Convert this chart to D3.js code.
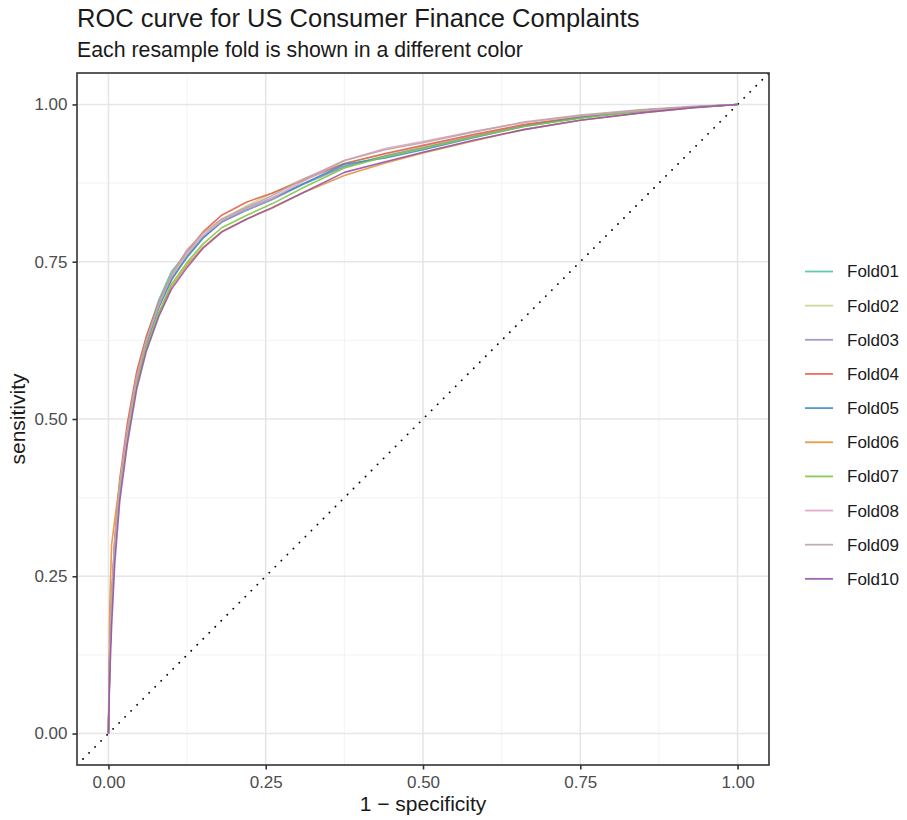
<!DOCTYPE html>
<html>
<head>
<meta charset="utf-8">
<script src="https://cdn.jsdelivr.net/npm/d3@7"></script>
<style>
  html, body { margin: 0; padding: 0; background: #ffffff; }
  svg { display: block; font-family: "Liberation Sans", Arial, Helvetica, sans-serif; }
</style>
</head>
<body>
<svg id="chart" width="907" height="820"></svg>
<script>
// ---------------- data ----------------
const foldNames = ["Fold01","Fold02","Fold03","Fold04","Fold05","Fold06","Fold07","Fold08","Fold09","Fold10"];
const foldColors = ["#52c2a8","#cbd48e","#9691cb","#e5604a","#3f8fc4","#e8913a","#80c744","#e0a3c4","#bba5a6","#9556aa"];

// 1 - specificity (false positive rate) sample points shared by every fold
const fpr = [0, 0.002, 0.005, 0.01, 0.018, 0.03, 0.045, 0.06, 0.08, 0.1, 0.125, 0.15, 0.18, 0.22, 0.26, 0.31, 0.375, 0.44, 0.5, 0.58, 0.66, 0.75, 0.85, 0.93, 1.0];

// sensitivity for each fold at the fpr points above
const fold01 = [0, 0.120, 0.210, 0.302, 0.395, 0.483, 0.570, 0.629, 0.689, 0.734, 0.765, 0.789, 0.813, 0.832, 0.849, 0.874, 0.902, 0.918, 0.932, 0.949, 0.966, 0.979, 0.990, 0.996, 1];
const fold02 = [0, 0.125, 0.215, 0.305, 0.393, 0.478, 0.564, 0.621, 0.679, 0.723, 0.762, 0.791, 0.817, 0.839, 0.859, 0.882, 0.906, 0.921, 0.933, 0.950, 0.967, 0.980, 0.990, 0.996, 1];
const fold03 = [0, 0.115, 0.205, 0.297, 0.390, 0.477, 0.562, 0.620, 0.677, 0.720, 0.759, 0.788, 0.813, 0.832, 0.849, 0.873, 0.901, 0.918, 0.931, 0.949, 0.966, 0.980, 0.991, 0.996, 1];
const fold04 = [0, 0.120, 0.215, 0.310, 0.405, 0.493, 0.576, 0.631, 0.685, 0.728, 0.766, 0.797, 0.824, 0.845, 0.859, 0.880, 0.906, 0.922, 0.935, 0.952, 0.968, 0.980, 0.991, 0.996, 1];
const fold05 = [0, 0.115, 0.205, 0.295, 0.387, 0.475, 0.560, 0.619, 0.678, 0.722, 0.757, 0.787, 0.814, 0.835, 0.851, 0.874, 0.905, 0.915, 0.928, 0.947, 0.965, 0.979, 0.990, 0.996, 1];
const fold06 = [0, 0.200, 0.300, 0.340, 0.400, 0.475, 0.557, 0.612, 0.667, 0.710, 0.745, 0.773, 0.798, 0.818, 0.835, 0.860, 0.887, 0.907, 0.923, 0.942, 0.960, 0.975, 0.987, 0.995, 1];
const fold07 = [0, 0.120, 0.210, 0.297, 0.385, 0.470, 0.555, 0.612, 0.669, 0.714, 0.749, 0.778, 0.804, 0.824, 0.842, 0.868, 0.899, 0.917, 0.930, 0.948, 0.965, 0.978, 0.990, 0.996, 1];
const fold08 = [0, 0.125, 0.215, 0.305, 0.395, 0.481, 0.566, 0.623, 0.681, 0.727, 0.765, 0.791, 0.815, 0.835, 0.851, 0.878, 0.911, 0.930, 0.941, 0.957, 0.971, 0.982, 0.991, 0.996, 1];
const fold09 = [0, 0.120, 0.210, 0.303, 0.395, 0.481, 0.568, 0.625, 0.684, 0.730, 0.769, 0.795, 0.818, 0.837, 0.855, 0.881, 0.911, 0.928, 0.939, 0.956, 0.972, 0.983, 0.992, 0.997, 1];
const fold10 = [0, 0.090, 0.170, 0.270, 0.370, 0.460, 0.548, 0.607, 0.663, 0.706, 0.741, 0.771, 0.797, 0.818, 0.836, 0.860, 0.892, 0.909, 0.924, 0.943, 0.960, 0.975, 0.987, 0.995, 1];
const foldSensitivity = [fold01, fold02, fold03, fold04, fold05, fold06, fold07, fold08, fold09, fold10];

const tickValues = [0, 0.25, 0.5, 0.75, 1];
const tickLabels = ["0.00", "0.25", "0.50", "0.75", "1.00"];
const minorTicks = [0.125, 0.375, 0.625, 0.875];

const titleText = "ROC curve for US Consumer Finance Complaints";
const subtitleText = "Each resample fold is shown in a different color";
const xTitle = "1 \u2212 specificity";
const yTitle = "sensitivity";

// ---------------- layout ----------------
const svg = d3.select("#chart");
const panel = { left: 77, right: 769, top: 73, bottom: 765 };

const x = d3.scaleLinear().domain([-0.05, 1.05]).range([panel.left, panel.right]);
const y = d3.scaleLinear().domain([-0.05, 1.05]).range([panel.bottom, panel.top]);

svg.append("rect").attr("width", 907).attr("height", 820).attr("fill", "#ffffff");

svg.append("defs").append("clipPath").attr("id", "panelClip")
  .append("rect")
  .attr("x", panel.left).attr("y", panel.top)
  .attr("width", panel.right - panel.left).attr("height", panel.bottom - panel.top);

const grid = svg.append("g");
// minor grid
grid.selectAll(".vmin").data(minorTicks).join("line")
  .attr("x1", d => x(d)).attr("x2", d => x(d))
  .attr("y1", panel.top).attr("y2", panel.bottom)
  .attr("stroke", "#f0f0f0").attr("stroke-width", 0.8);
grid.selectAll(".hmin").data(minorTicks).join("line")
  .attr("y1", d => y(d)).attr("y2", d => y(d))
  .attr("x1", panel.left).attr("x2", panel.right)
  .attr("stroke", "#f0f0f0").attr("stroke-width", 0.8);
// major grid
grid.selectAll(".vmaj").data(tickValues).join("line")
  .attr("x1", d => x(d)).attr("x2", d => x(d))
  .attr("y1", panel.top).attr("y2", panel.bottom)
  .attr("stroke", "#e6e6e6").attr("stroke-width", 1.6);
grid.selectAll(".hmaj").data(tickValues).join("line")
  .attr("y1", d => y(d)).attr("y2", d => y(d))
  .attr("x1", panel.left).attr("x2", panel.right)
  .attr("stroke", "#e6e6e6").attr("stroke-width", 1.6);

const plot = svg.append("g").attr("clip-path", "url(#panelClip)");

// diagonal reference line (abline), extends across the whole panel
plot.append("line")
  .attr("x1", x(-0.05)).attr("y1", y(-0.05))
  .attr("x2", x(1.05)).attr("y2", y(1.05))
  .attr("stroke", "#000000").attr("stroke-width", 1.8)
  .attr("stroke-linecap", "round")
  .attr("stroke-dasharray", "0.1,8.4");

const line = d3.line()
  .x(d => x(d[0]))
  .y(d => y(d[1]));

foldNames.forEach((name, i) => {
  const pts = fpr.map((f, j) => [f, foldSensitivity[i][j]]);
  plot.append("path")
    .datum(pts)
    .attr("d", line)
    .attr("fill", "none")
    .attr("stroke", foldColors[i])
    .attr("stroke-width", 1.6)
    .attr("stroke-opacity", 0.9)
    .attr("stroke-linejoin", "round");
});

// panel border
svg.append("rect")
  .attr("x", panel.left).attr("y", panel.top)
  .attr("width", panel.right - panel.left).attr("height", panel.bottom - panel.top)
  .attr("fill", "none").attr("stroke", "#333333").attr("stroke-width", 1.6);

// axes
const xAxis = d3.axisBottom(x).tickValues(tickValues)
  .tickFormat((d, i) => tickLabels[i]).tickSize(4.5).tickPadding(6);
const yAxis = d3.axisLeft(y).tickValues(tickValues)
  .tickFormat((d, i) => tickLabels[i]).tickSize(4.5).tickPadding(5);

const gx = svg.append("g").attr("transform", `translate(0,${panel.bottom})`).call(xAxis);
const gy = svg.append("g").attr("transform", `translate(${panel.left},0)`).call(yAxis);
[gx, gy].forEach(g => {
  g.select(".domain").remove();
  g.selectAll(".tick line").attr("stroke", "#333333").attr("stroke-width", 1.6);
  g.selectAll(".tick text")
    .attr("fill", "#4d4d4d")
    .style("font-size", "17px")
    .style("font-family", "'Liberation Sans', Arial, sans-serif");
});

// titles
svg.append("text").attr("x", 77).attr("y", 26.5)
  .attr("fill", "#1a1a1a").style("font-size", "25.5px").text(titleText);
svg.append("text").attr("x", 77).attr("y", 57)
  .attr("fill", "#1a1a1a").style("font-size", "21.3px").text(subtitleText);

svg.append("text")
  .attr("x", (panel.left + panel.right) / 2).attr("y", 811)
  .attr("text-anchor", "middle").attr("fill", "#1a1a1a")
  .style("font-size", "21px").text(xTitle);
svg.append("text")
  .attr("transform", `translate(25,${(panel.top + panel.bottom) / 2}) rotate(-90)`)
  .attr("text-anchor", "middle").attr("fill", "#1a1a1a")
  .style("font-size", "21px").text(yTitle);

// legend
const legendTop = 271.5, legendStep = 34.15;
const legend = svg.append("g");
foldNames.forEach((name, i) => {
  const yy = legendTop + i * legendStep;
  legend.append("line")
    .attr("x1", 805).attr("x2", 833).attr("y1", yy).attr("y2", yy)
    .attr("stroke", foldColors[i]).attr("stroke-width", 1.8).attr("stroke-opacity", 0.9);
  legend.append("text")
    .attr("x", 847).attr("y", yy).attr("dy", "0.35em")
    .attr("fill", "#1a1a1a").style("font-size", "17px").text(name);
});
</script>
</body>
</html>
